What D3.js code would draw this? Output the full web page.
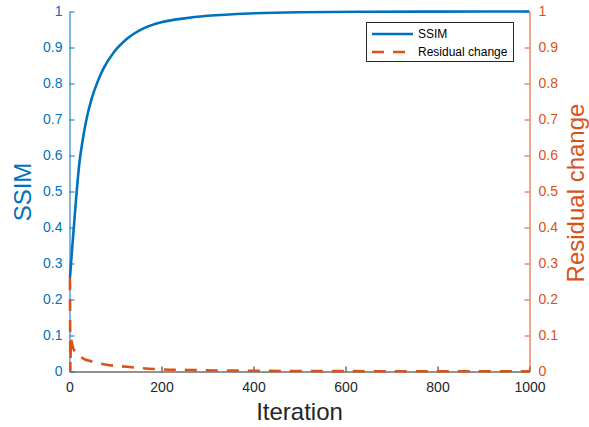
<!DOCTYPE html>
<html>
<head>
<meta charset="utf-8">
<script src="https://cdn.jsdelivr.net/npm/d3@7"></script>
<style>
  body { margin: 0; background: #fff; }
  text { font-family: "Liberation Sans", Arial, sans-serif; }
</style>
</head>
<body>
<svg width="589" height="427"></svg>
<script>
// values
var ssimIter = [1, 6, 10, 15, 22, 29, 36, 48, 62, 74, 96, 125, 161, 200, 250, 300, 400, 500, 650, 800, 1000];
var ssimVal  = [0.26, 0.346, 0.41, 0.49, 0.585, 0.645, 0.695, 0.757, 0.808, 0.842, 0.886, 0.924, 0.953, 0.970, 0.981, 0.988, 0.995, 0.998, 0.9993, 0.9997, 0.9999];

var resIter = [1, 2, 3, 5, 8, 16, 30, 52, 80, 125, 197, 270, 400, 600, 800, 1000];
var resVal  = [0.26, 0.003, 0.092, 0.08, 0.065, 0.05, 0.036, 0.027, 0.019, 0.013, 0.006, 0.004, 0.002, 0.001, 0.0007, 0.0005];

var xTicks = [0, 200, 400, 600, 800, 1000];
var yTicks = [0, 0.1, 0.2, 0.3, 0.4, 0.5, 0.6, 0.7, 0.8, 0.9, 1];
var seriesNames = ["SSIM", "Residual change"];

var blue = "#0072BD", orange = "#D95319", dark = "#262626";

var svg = d3.select("svg"),
    pLeft = 69.5, pRight = 529.5, pTop = 11.5, pBottom = 371.5;

var x = d3.scaleLinear().domain([0, 1000]).range([pLeft, pRight]);
var yL = d3.scaleLinear().domain([0, 1]).range([pBottom, pTop]);
var yR = d3.scaleLinear().domain([0, 1]).range([pBottom, pTop]);

function fmt(d) { return d3.format("~g")(d); }

// x axis (ticks point inward)
var xAxis = svg.append("g")
    .attr("transform", "translate(0," + pBottom + ")")
    .call(d3.axisBottom(x).tickValues(xTicks).tickFormat(fmt).tickSizeInner(-5).tickSizeOuter(0).tickPadding(11));
xAxis.select(".domain").attr("stroke", dark);
xAxis.selectAll(".tick line").attr("stroke", dark);
xAxis.selectAll("text").attr("fill", dark).style("font-size", "14px");

// left axis
var lAxis = svg.append("g")
    .attr("transform", "translate(" + pLeft + ",0)")
    .call(d3.axisLeft(yL).tickValues(yTicks).tickFormat(fmt).tickSizeInner(-5).tickSizeOuter(0).tickPadding(7));
lAxis.select(".domain").attr("stroke", blue);
lAxis.selectAll(".tick line").attr("stroke", blue);
lAxis.selectAll("text").attr("fill", blue).style("font-size", "14px");

// right axis
var rAxis = svg.append("g")
    .attr("transform", "translate(" + pRight + ",0)")
    .call(d3.axisRight(yR).tickValues(yTicks).tickFormat(fmt).tickSizeInner(-5).tickSizeOuter(0).tickPadding(9));
rAxis.select(".domain").attr("stroke", orange);
rAxis.selectAll(".tick line").attr("stroke", orange);
rAxis.selectAll("text").attr("fill", orange).style("font-size", "14px");

// lines
var ssim = ssimIter.map(function(d, i) { return [d, ssimVal[i]]; });
var res = resIter.map(function(d, i) { return [d, resVal[i]]; });

svg.append("path")
    .datum(ssim)
    .attr("fill", "none")
    .attr("stroke", blue)
    .attr("stroke-width", 2.6)
    .attr("d", d3.line().curve(d3.curveMonotoneX)
      .x(function(d) { return x(d[0]); })
      .y(function(d) { return yL(d[1]); }));

svg.append("path")
    .datum(res)
    .attr("fill", "none")
    .attr("stroke", orange)
    .attr("stroke-width", 2.6)
    .attr("stroke-dasharray", "12,9")
    .attr("d", d3.line().curve(d3.curveMonotoneX)
      .x(function(d) { return x(d[0]); })
      .y(function(d) { return yR(d[1]); }));

// axis titles
svg.append("text")
    .attr("transform", "translate(31,192) rotate(-90)")
    .attr("text-anchor", "middle")
    .attr("fill", blue)
    .style("font-size", "24px")
    .text("SSIM");

svg.append("text")
    .attr("transform", "translate(584,193) rotate(-90)")
    .attr("text-anchor", "middle")
    .attr("fill", orange)
    .style("font-size", "24px")
    .text("Residual change");

svg.append("text")
    .attr("x", (pLeft + pRight) / 2)
    .attr("y", 420)
    .attr("text-anchor", "middle")
    .attr("fill", dark)
    .style("font-size", "24px")
    .text("Iteration");

// legend
var lg = svg.append("g");
lg.append("rect")
    .attr("x", 366.5).attr("y", 22.5)
    .attr("width", 147).attr("height", 39)
    .attr("fill", "#fff")
    .attr("stroke", dark)
    .attr("stroke-width", 1);

seriesNames.forEach(function(name, i) {
  var yy = 34 + i * 18;
  lg.append("line")
      .attr("x1", 372).attr("x2", 413)
      .attr("y1", yy).attr("y2", yy)
      .attr("stroke", i ? orange : blue)
      .attr("stroke-width", 2.6)
      .attr("stroke-dasharray", i ? "12,9" : null);
  lg.append("text")
      .attr("x", 418).attr("y", yy + 4)
      .attr("fill", "#000")
      .style("font-size", "12px")
      .text(name);
});
</script>
</body>
</html>
